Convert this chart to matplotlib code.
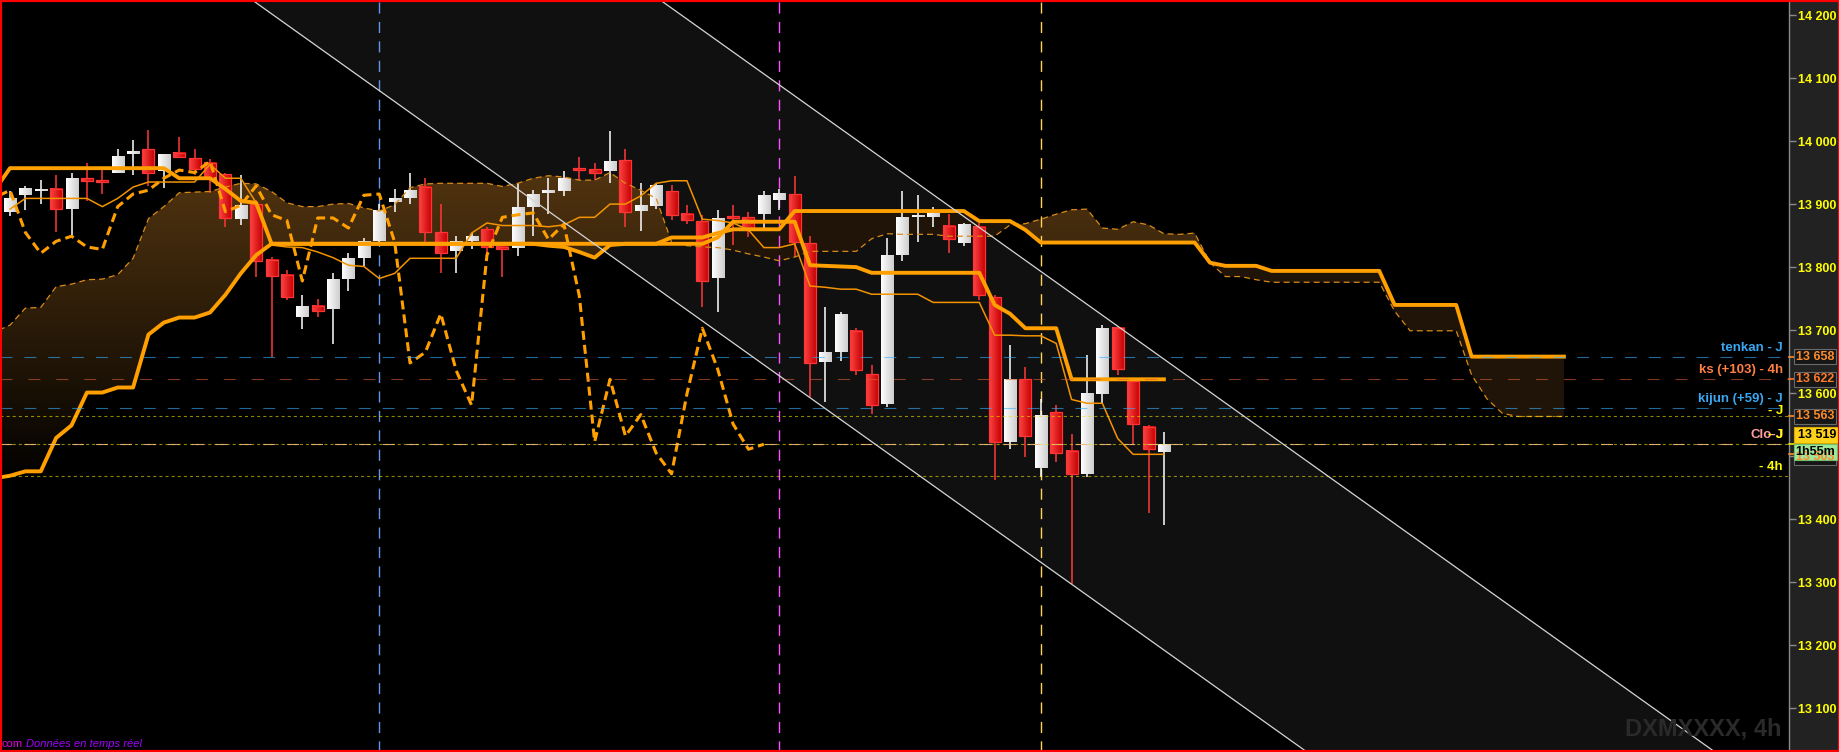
import numpy as np
import matplotlib
matplotlib.use("Agg")
import matplotlib.pyplot as plt
from matplotlib.patches import Rectangle, PathPatch
from matplotlib.path import Path
from matplotlib.colors import LinearSegmentedColormap
import matplotlib.transforms as mtransforms

plt.rcParams['font.family'] = ['Liberation Sans', 'DejaVu Sans']
plt.rcParams['lines.scale_dashes'] = False

# ---- 4h candles -------------------------------------------------------------
opens = [13888, 13914, 13921, 13924, 13892, 13941, 13938, 13950, 13980, 13987,
         13953, 13981, 13973, 13965, 13947, 13876, 13900, 13812, 13788, 13721,
         13739, 13733, 13781, 13815, 13841, 13904, 13910, 13927, 13855, 13826,
         13842, 13860, 13832, 13831, 13896, 13918, 13921, 13956, 13956, 13953,
         13970, 13889, 13897, 13920, 13884, 13873, 13783, 13881, 13879, 13885,
         13906, 13916, 13838, 13650, 13666, 13698, 13630, 13583, 13819, 13880,
         13880, 13866, 13839, 13864, 13753, 13523, 13622, 13482, 13570, 13509,
         13472, 13599, 13704, 13619, 13546, 13507]
highs = [13920, 13928, 13938, 13946, 13950, 13965, 13954, 13988, 14002, 14017,
         13980, 14007, 13988, 13971, 13949, 13946, 13906, 13816, 13795, 13756,
         13750, 13790, 13823, 13846, 13900, 13924, 13950, 13942, 13900, 13849,
         13854, 13863, 13835, 13933, 13922, 13941, 13952, 13975, 13965, 14016,
         13988, 13934, 13934, 13930, 13898, 13883, 13891, 13898, 13888, 13921,
         13924, 13945, 13849, 13737, 13729, 13703, 13645, 13846, 13921, 13914,
         13895, 13884, 13870, 13870, 13756, 13677, 13641, 13591, 13582, 13536,
         13661, 13708, 13706, 13621, 13549, 13538]
lows = [13881, 13891, 13900, 13856, 13851, 13905, 13916, 13949, 13946, 13928,
        13926, 13973, 13946, 13918, 13864, 13867, 13785, 13657, 13748, 13702,
        13721, 13678, 13762, 13801, 13838, 13888, 13900, 13840, 13791, 13790,
        13828, 13811, 13784, 13818, 13849, 13884, 13913, 13938, 13938, 13933,
        13864, 13858, 13892, 13875, 13868, 13736, 13729, 13835, 13848, 13862,
        13891, 13816, 13594, 13586, 13651, 13629, 13567, 13578, 13810, 13840,
        13864, 13823, 13834, 13748, 13463, 13511, 13498, 13467, 13491, 13297,
        13467, 13584, 13629, 13520, 13410, 13391]
closes = [13909, 13924, 13924, 13892, 13940, 13937, 13935, 13976, 13984, 13950,
          13979, 13974, 13956, 13941, 13878, 13898, 13810, 13786, 13753, 13738,
          13731, 13780, 13814, 13841, 13889, 13910, 13922, 13855, 13822, 13841,
          13849, 13832, 13828, 13896, 13916, 13922, 13941, 13954, 13950, 13968,
          13888, 13898, 13929, 13883, 13874, 13778, 13878, 13878, 13862, 13914,
          13916, 13840, 13648, 13665, 13726, 13636, 13581, 13819, 13879, 13883,
          13886, 13844, 13868, 13755, 13523, 13622, 13532, 13566, 13505, 13472,
          13599, 13703, 13638, 13551, 13511, 13519]

# ---- Ichimoku lines ---------------------------------------------------------
# tenkan: candles 0..75
tenkan = [13892, 13909, 13909, 13909, 13909, 13909, 13896, 13909, 13927, 13935,
          13935, 13935, 13935, 13963, 13941, 13941, 13902, 13835, 13832, 13831,
          13824, 13815, 13803, 13801, 13782, 13790, 13814, 13814, 13814, 13814,
          13854, 13870, 13866, 13866, 13866, 13864, 13867, 13879, 13879, 13900,
          13900, 13913, 13933, 13937, 13937, 13876, 13874, 13870, 13859, 13831,
          13831, 13837, 13770, 13768, 13765, 13765, 13757, 13757, 13757, 13757,
          13744, 13744, 13744, 13744, 13692, 13692, 13691, 13691, 13679, 13590,
          13584, 13584, 13528, 13503, 13503, 13503]
# kijun: candles -1..75
kijun = [13922,
         13957, 13957, 13957, 13957, 13957, 13957, 13957, 13957, 13957, 13957,
         13957, 13941, 13941, 13941, 13924, 13905, 13902, 13837, 13837, 13837,
         13837, 13837, 13837, 13837, 13837, 13837, 13837, 13837, 13837, 13837,
         13837, 13837, 13837, 13837, 13837, 13837, 13837, 13837, 13837, 13837,
         13837, 13837, 13837, 13837, 13837, 13837, 13847, 13872, 13872, 13872,
         13872, 13872, 13803, 13802, 13801, 13800, 13791, 13791, 13791, 13791,
         13791, 13791, 13791, 13791, 13740, 13726, 13703, 13703, 13703, 13622,
         13622, 13622, 13622, 13622, 13622, 13622]
# senkou spans: candles -1..101 (26 periods projected forward)
senkou_a = [13697,
            13708, 13735, 13736, 13769, 13773, 13780, 13781, 13788, 13814, 13877,
            13896, 13918, 13919, 13920, 13927, 13933, 13932, 13920, 13902, 13896,
            13896, 13900, 13901, 13894, 13889, 13899, 13926, 13932, 13933, 13933,
            13933, 13933, 13928, 13933, 13941, 13945, 13943, 13938, 13938, 13950,
            13933, 13922, 13909, 13840, 13834, 13832, 13831, 13827, 13821, 13816,
            13810, 13816, 13825, 13825, 13825, 13825, 13845, 13853, 13852, 13852,
            13852, 13849, 13849, 13849, 13849, 13867, 13869, 13876, 13884, 13891,
            13892, 13862, 13860, 13872, 13867, 13853, 13852, 13854, 13807, 13785,
            13785, 13780, 13776, 13776, 13776, 13776, 13776, 13776, 13776, 13776,
            13730, 13699, 13699, 13699, 13699, 13629, 13591, 13568, 13563, 13563,
            13563, 13563]
senkou_b = [13465,
            13469, 13476, 13476, 13529, 13549, 13601, 13601, 13609, 13609, 13693,
            13712, 13720, 13720, 13728, 13756, 13790, 13819, 13837, 13837, 13837,
            13837, 13837, 13837, 13837, 13837, 13837, 13837, 13837, 13837, 13837,
            13837, 13837, 13837, 13837, 13837, 13834, 13832, 13824, 13815, 13835,
            13837, 13837, 13837, 13847, 13847, 13847, 13854, 13860, 13860, 13860,
            13860, 13889, 13889, 13889, 13889, 13889, 13889, 13889, 13889, 13889,
            13889, 13889, 13889, 13873, 13873, 13873, 13859, 13839, 13839, 13839,
            13839, 13839, 13839, 13839, 13839, 13839, 13839, 13839, 13807, 13802,
            13802, 13802, 13794, 13794, 13794, 13794, 13794, 13794, 13794, 13794,
            13740, 13740, 13740, 13740, 13740, 13658, 13658, 13658, 13658, 13658,
            13658, 13658]
CHIKOU_SHIFT = 26

# ---- reference levels -------------------------------------------------------
level_labels = ['tenkan - J', 'ks (+103) - 4h', 'kijun (+59) - J', '- J', 'Clo-J', '- J', '- 4h']
level_prices = [13658, 13622, 13576, 13563, 13519, 13519, 13469]
level_line_colors = ['#33b0ff', '#d95f30', '#33b0ff', '#e6e600', '#f2a8a8', '#e6e600', '#e6e600']
level_text_colors = ['#3aa6ef', '#ff7f45', '#3aa6ef', '#ffff00', '#ff9e9e', '#ffff00', '#ffff00']
level_text_raise = [9, 9, 9, 5, 9, 9, 9]

price_ticks = [13100, 13200, 13300, 13400, 13500, 13600, 13700, 13800, 13900, 14000, 14100, 14200]
session_marks = [24, 50, 67]
session_colors = ['#6496e8', '#ff50ff', '#ffd35a']

# channel drawn through two anchors on its upper edge and one on the lower edge
CHANNEL_UPPER = [(42.25, 14224.0), (110.8, 13031.0)]
CHANNEL_LOWER_ANCHOR = (15.73, 14224.0)

symbol_text = 'DXMXXXX, 4h'
timer_text = '1h55m'

# ---- figure -----------------------------------------------------------------
W, H = 1840, 752
fig = plt.figure(figsize=(W / 100, H / 100), dpi=100, facecolor='#222222')
ax = fig.add_axes([0, 0, 1789 / W, 1])
ax.set_facecolor('#000000')

XMIN, XMAX = -0.65, 115.63
YMIN, YMAX = 13030.7, 14223.8

# trend channel
(ux0, uy0), (ux1, uy1) = CHANNEL_UPPER
slope = (uy1 - uy0) / (ux1 - ux0)
xs_ch = np.array([-3.0, 125.0])
ch_up = uy0 + slope * (xs_ch - ux0)
ch_lo = CHANNEL_LOWER_ANCHOR[1] + slope * (xs_ch - CHANNEL_LOWER_ANCHOR[0])
ax.fill_between(xs_ch, ch_lo, ch_up, color='#101010', lw=0, zorder=0.5)
ax.plot(xs_ch, ch_up, color='#d6d6d6', lw=0.9, zorder=6)
ax.plot(xs_ch, ch_lo, color='#d6d6d6', lw=0.9, zorder=6)

# kumo
xs_cloud = np.arange(-1, len(senkou_a) - 1)
sa = np.array(senkou_a, float)
sb = np.array(senkou_b, float)
ax.fill_between(xs_cloud, sa, sb, where=sa < sb, interpolate=True,
                facecolor='#1f1407', edgecolor='none', zorder=1)
bright = ax.fill_between(xs_cloud, sa, sb, where=sa >= sb, interpolate=True,
                         facecolor='none', edgecolor='none', zorder=1)
clip = PathPatch(Path.make_compound_path(*bright.get_paths()),
                 transform=ax.transData, facecolor='none', edgecolor='none')
ax.add_patch(clip)
pr = np.linspace(YMIN, YMAX, 500)
frac = np.clip((pr - 13450) / (13960 - 13450), 0, 1)
rgb = frac[:, None] * np.array([0x53, 0x35, 0x10]) / 255.0
img = ax.imshow(rgb[:, None, :], extent=(-1, xs_cloud[-1], YMIN, YMAX),
                origin='lower', aspect='auto', interpolation='bilinear', zorder=1)
img.set_clip_path(clip)

# session separators
for xm, col in zip(session_marks, session_colors):
    ax.axvline(xm, color=col, lw=1.0, ls=(0, (8, 6)), zorder=1.5)

# candles
grad = np.linspace(0, 1, 32).reshape(1, -1)
cm_up = LinearSegmentedColormap.from_list('up', ['#ffffff', '#cdcdcd'])
cm_dn = LinearSegmentedColormap.from_list('dn', ['#ff4242', '#c20000'])
half = 0.39
for i, (o, h, l, c) in enumerate(zip(opens, highs, lows, closes)):
    up = c >= o
    ax.plot([i, i], [l, h], color='#ffffff' if up else '#ff3838', lw=1.1,
            solid_capstyle='butt', zorder=2.9)
    lo, hi = min(o, c), max(o, c)
    if hi - lo < 3:
        hi = lo + 3
    ax.imshow(grad, cmap=cm_up if up else cm_dn, extent=(i - half, i + half, lo, hi),
              aspect='auto', interpolation='bilinear', zorder=3)
    if not up:
        ax.add_patch(Rectangle((i - half, lo), 2 * half, hi - lo, fill=False,
                               ec='#ff3434', lw=0.9, zorder=3.1))

# ichimoku
orange = '#ffa000'
xc = np.arange(len(closes))
ax.plot(xc - CHIKOU_SHIFT, closes, color=orange, lw=2.2, ls=(0, (6.5, 3.6)), zorder=4)
ax.plot(xc, tenkan, color='#f39300', lw=1.1, zorder=4.1)
ax.plot(xs_cloud, senkou_a, color='#d98a18', lw=0.9, ls=(0, (4.3, 2.9)), zorder=4.1)
ax.plot(xs_cloud, senkou_b, color=orange, lw=2.8, zorder=4.2, solid_joinstyle='round')
ax.plot(np.arange(-1, len(kijun) - 1), kijun, color=orange, lw=2.8, zorder=4.3,
        solid_joinstyle='round')

# reference levels
dash_styles = [(0, (8.6, 8.6)), (0, (8.6, 11.5)), (0, (8.6, 8.6)), (0, (2.2, 2.2)),
               (0, (8.6, 8.6)), (0, (2.2, 2.2)), (0, (2.2, 2.2))]
alphas = [0.6, 0.6, 0.6, 0.6, 0.9, 0.6, 0.6]
for p, col, ds, al in zip(level_prices, level_line_colors, dash_styles, alphas):
    ax.axhline(p, color=col, lw=0.8, ls=ds, alpha=al, zorder=5)
for lab, p, tcol, dy in zip(level_labels, level_prices, level_text_colors, level_text_raise):
    ax.annotate(lab, xy=(1, p), xycoords=('axes fraction', 'data'), xytext=(-6, dy),
                textcoords='offset pixels', ha='right', va='center', color=tcol,
                fontsize=9.5, fontweight='bold', zorder=7)

ax.set_xlim(XMIN, XMAX)
ax.set_ylim(YMIN, YMAX)

# price axis
ax.set_xticks([])
ax.yaxis.tick_right()
ax.set_yticks(price_ticks)
ax.set_yticklabels([f'{t:,}'.replace(',', ' ') for t in price_ticks])
ax.tick_params(axis='y', direction='out', length=5, width=1, color='#8a8a8a',
               pad=1.5, labelsize=9, labelcolor='#ffff00')
for lbl in ax.get_yticklabels():
    lbl.set_fontweight('bold')
for s in ['left', 'top', 'bottom']:
    ax.spines[s].set_visible(False)
ax.spines['right'].set_color('#8a8a8a')
ax.spines['right'].set_linewidth(1)

# value boxes on the price axis
blend = mtransforms.blended_transform_factory(fig.transFigure, ax.transData)
ppx = (YMAX - YMIN) / H  # price units per pixel
bx0 = 1794 / W


def price_box(price, text, fc, ec, tc, shift_px=0.0, width_px=42, height_px=15, tick=None):
    yc = price + shift_px * ppx
    if tick:
        ax.plot([1789 / W, 1794 / W], [price, price], transform=blend, color=tick,
                lw=1.2, clip_on=False, zorder=8)
    fig.add_artist(Rectangle((bx0, yc - height_px * ppx / 2), width_px / W, height_px * ppx,
                             transform=blend, fc=fc, ec=ec, lw=0.8, zorder=9))
    fig.text(bx0 + width_px / W / 2, yc, text, transform=blend, ha='center', va='center',
             color=tc, fontsize=9, fontweight='bold', zorder=10)


price_box(13658, '13 658', '#161616', '#6a6a6a', '#ff8a2a', tick='#ff8a2a')
price_box(13622, '13 622', '#161616', '#6a6a6a', '#ff7a2a', tick='#ff7a2a')
price_box(13563, '13 563', '#161616', '#6a6a6a', '#ff8a2a', tick='#ff8a2a')
price_box(tenkan[-1], '13 503', '#161616', '#6a6a6a', '#ff8a2a', shift_px=-3, tick='#ff8a2a')
price_box(closes[-1], '13 519', '#ffd21a', '#d8a800', '#000000', shift_px=9, width_px=46,
          height_px=16, tick='#e8e800')
price_box(closes[-1], timer_text, '#9ce89c', '#6fbf6f', '#000000', shift_px=-8, width_px=43,
          height_px=16)

# footer and symbol watermark
fig.text(2 / W, 3 / H, 'com', color='#e000e0', fontsize=8, ha='left', va='bottom')
fig.text(26 / W, 3 / H, 'Données en temps réel', color='#a000ff', fontsize=8,
         style='italic', ha='left', va='bottom')
fig.text(1703 / W, 1 - 729 / H, symbol_text, color='#2a2a2a', fontsize=17,
         fontweight='bold', ha='center', va='center')

fig.add_artist(Rectangle((0, 0), 1, 1, transform=fig.transFigure, fill=False,
                         ec='#ff0000', lw=3, zorder=100))

fig.savefig('out.png', dpi=100, facecolor=fig.get_facecolor())
